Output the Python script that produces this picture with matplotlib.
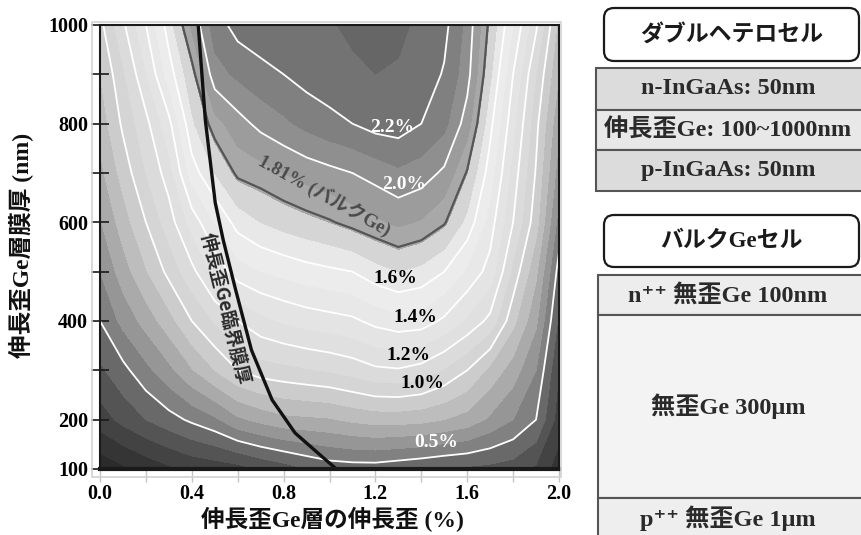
import numpy as np
import matplotlib
matplotlib.use("Agg")
import matplotlib.pyplot as plt
from matplotlib.patches import Rectangle, FancyBboxPatch

# ---- data -------------------------------------------------------------
# tensile strain of the Ge layer (%)
strain = [0.0, 0.1, 0.2, 0.3, 0.4, 0.5, 0.6, 0.7, 0.8, 0.9, 1.0,
          1.1, 1.2, 1.3, 1.4, 1.5, 1.6, 1.7, 1.8, 1.9, 2.0]
# strained Ge layer thickness (nm)
thickness = [100, 200, 300, 400, 500, 600, 700, 800, 900, 1000]

# efficiency gain (%) per thickness row, one value per strain column
gain_100 = [0.03, 0.08, 0.13, 0.18, 0.22, 0.24, 0.26, 0.31, 0.35, 0.40, 0.44,
            0.45, 0.45, 0.43, 0.41, 0.39, 0.38, 0.37, 0.35, 0.28, 0.15]
gain_200 = [0.25, 0.33, 0.40, 0.46, 0.52, 0.58, 0.68, 0.73, 0.77, 0.78, 0.79,
            0.82, 0.84, 0.84, 0.83, 0.80, 0.76, 0.68, 0.60, 0.50, 0.25]
gain_300 = [0.38, 0.47, 0.57, 0.67, 0.79, 0.90, 1.00, 1.05, 1.07, 1.09, 1.11,
            1.14, 1.18, 1.19, 1.16, 1.09, 1.00, 0.87, 0.75, 0.60, 0.30]
gain_400 = [0.50, 0.63, 0.74, 0.86, 1.00, 1.11, 1.20, 1.27, 1.31, 1.34, 1.36,
            1.38, 1.43, 1.46, 1.45, 1.38, 1.28, 1.17, 0.93, 0.72, 0.38]
gain_500 = [0.60, 0.75, 0.89, 1.03, 1.17, 1.33, 1.45, 1.50, 1.53, 1.56, 1.58,
            1.60, 1.66, 1.70, 1.67, 1.60, 1.48, 1.36, 1.07, 0.82, 0.46]
gain_600 = [0.69, 0.85, 1.00, 1.15, 1.34, 1.50, 1.64, 1.70, 1.74, 1.77, 1.80,
            1.84, 1.88, 1.92, 1.89, 1.82, 1.67, 1.45, 1.20, 0.94, 0.56]
gain_700 = [0.77, 0.94, 1.10, 1.25, 1.55, 1.70, 1.83, 1.86, 1.90, 1.94, 1.97,
            2.00, 2.04, 2.08, 2.05, 1.98, 1.80, 1.55, 1.26, 0.99, 0.65]
gain_800 = [0.84, 1.02, 1.17, 1.37, 1.68, 1.86, 1.96, 2.03, 2.08, 2.13, 2.17,
            2.20, 2.24, 2.25, 2.20, 2.13, 1.95, 1.63, 1.33, 1.03, 0.72]
gain_900 = [0.90, 1.08, 1.29, 1.55, 1.77, 2.06, 2.12, 2.17, 2.20, 2.24, 2.26,
            2.28, 2.30, 2.29, 2.26, 2.19, 2.04, 1.72, 1.40, 1.10, 0.80]
gain_1000 = [0.97, 1.18, 1.40, 1.65, 1.92, 2.15, 2.24, 2.26, 2.28, 2.29, 2.29,
             2.32, 2.35, 2.32, 2.28, 2.23, 2.07, 1.78, 1.50, 1.22, 0.87]

# bulk Ge reference level and labelled contour levels (%)
bulk_level = 1.81
white_levels = [0.5, 1.0, 1.2, 1.4, 1.6, 2.0, 2.2]

# critical thickness of the tensile-strained Ge layer
crit_strain = [0.428, 0.459, 0.502, 0.537, 0.59, 0.66, 0.75, 0.85, 0.97, 1.03]
crit_thick = [1000, 807, 640, 564, 465, 341, 240, 173, 124, 100]

x_ticks = [0.0, 0.4, 0.8, 1.2, 1.6, 2.0]
y_ticks = [100, 200, 400, 600, 800, 1000]

# ---- fonts ------------------------------------------------------------
SERIF_JP = ["Liberation Serif", "Noto Sans CJK JP", "DejaVu Sans"]
GOTHIC_JP = ["Noto Sans CJK JP", "DejaVu Sans"]
plt.rcParams["font.family"] = SERIF_JP

W, H = 861, 535
fig = plt.figure(figsize=(W / 100, H / 100), dpi=100)
fig.patch.set_facecolor("white")

# main axes: x 100..559 px, y 25..469 px
ax = fig.add_axes([100 / W, (H - 469) / H, 459 / W, 444 / H])

gain = np.array([gain_100, gain_200, gain_300, gain_400, gain_500,
                 gain_600, gain_700, gain_800, gain_900, gain_1000])
X, Y = np.meshgrid(strain, thickness)

# grey shading: dark at low gain, lightest near 1.6 %, darker again above
levels = np.round(np.arange(0.0, 2.45, 0.1), 2)
shade_v = [0.0, 0.2, 0.4, 0.5, 0.7, 0.9, 1.0, 1.2, 1.4, 1.6, 1.7, 1.8, 1.85, 2.0, 2.1, 2.2, 2.3, 2.4]
shade_g = [38, 58, 92, 118, 160, 198, 210, 222, 230, 238, 226, 200, 168, 150, 135, 122, 108, 95]
mids = (levels[:-1] + levels[1:]) / 2
band_colors = [str(np.interp(m, shade_v, shade_g) / 255.0) for m in mids]
ax.contourf(X, Y, gain, levels=levels, colors=band_colors, extend="both")

ax.contour(X, Y, gain, levels=white_levels, colors="white", linewidths=1.3)
ax.contour(X, Y, gain, levels=[bulk_level], colors="#555555", linewidths=1.6)

ax.plot(crit_strain, crit_thick, color="#111111", lw=2.4, solid_capstyle="butt")

# contour annotations
lab = dict(fontsize=14, fontweight="bold", ha="center", va="center", family=SERIF_JP)
ax.text(1.275, 793, "2.2%", color="white", **lab)
ax.text(1.323, 676, "2.0%", color="white", **lab)
ax.text(1.288, 487, "1.6%", color="black", **lab)
ax.text(1.376, 408, "1.4%", color="black", **lab)
ax.text(1.345, 331, "1.2%", color="black", **lab)
ax.text(1.406, 274, "1.0%", color="black", **lab)
ax.text(1.463, 153, "0.5%", color="white", **lab)
ax.text(0.98, 655, "1.81% (バルクGe)", color="#4a4a4a", rotation=-29,
        rotation_mode="anchor", fontsize=13.5, fontweight="bold",
        ha="center", va="center", family=SERIF_JP)
ax.text(0.545, 425, "伸長歪Ge臨界膜厚", color="#2a2a2a", rotation=-76,
        rotation_mode="anchor", fontsize=13.5, fontweight="bold",
        ha="center", va="center", family=GOTHIC_JP)

ax.set_xlim(0, 2.0)
ax.set_ylim(100, 1000)

for side in ["left", "top", "right"]:
    ax.spines[side].set_color("#1a1a1a")
    ax.spines[side].set_linewidth(1.5)
ax.spines["bottom"].set_color("#1a1a1a")
ax.spines["bottom"].set_linewidth(3)

ax.set_xticks(x_ticks)
ax.set_xticks(np.arange(0, 2.01, 0.2), minor=True)
ax.set_xticklabels([f"{v:.1f}" for v in x_ticks])
ax.set_yticks(y_ticks)
ax.set_yticks([300, 500, 700, 900], minor=True)
ax.set_yticklabels([str(v) for v in y_ticks])
ax.tick_params(axis="x", which="both", direction="out", length=9, width=1,
               color="#c4c4c4", pad=2, labelsize=14.5)
ax.tick_params(axis="y", which="both", direction="inout", length=13, width=1.2,
               color="#1a1a1a", pad=2, labelsize=14.5)
for t in ax.get_xticklabels() + ax.get_yticklabels():
    t.set_fontweight("bold")

top = ax.secondary_xaxis("top")
top.set_xticks([0.5, 1.0, 1.5])
top.tick_params(direction="in", length=6, width=1.2, color="#1a1a1a", labeltop=False)
top.spines["top"].set_visible(False)
bot = ax.secondary_xaxis("bottom")
bot.set_xticks([0.5, 1.0, 1.5])
bot.tick_params(direction="in", length=6, width=1.2, color="#1a1a1a", labelbottom=False)
bot.spines["bottom"].set_visible(False)
rgt = ax.secondary_yaxis("right")
rgt.set_yticks(np.arange(100, 1001, 100))
rgt.tick_params(direction="in", length=6, width=1.2, color="#1a1a1a", labelright=False)
rgt.spines["right"].set_visible(False)

# ---- overlay in pixel coordinates --------------------------------------
ov = fig.add_axes([0, 0, 1, 1])
ov.set_xlim(0, W)
ov.set_ylim(H, 0)
ov.axis("off")

# faint outer frame around the plot
ov.add_patch(Rectangle((92, 22), 469, 455, fill=False, ec="#d2d2d2", lw=1.2))

ov.text(332, 520, "伸長歪Ge層の伸長歪 (%)", fontsize=17, fontweight="bold",
        ha="center", va="center", family=SERIF_JP, color="#111111")
ov.text(22, 245, "伸長歪Ge層膜厚 (nm)", fontsize=17, fontweight="bold",
        ha="center", va="center", rotation=90, family=SERIF_JP, color="#111111")

# layer stacks
def rounded(x0, y0, x1, y1, text, family):
    ov.add_patch(FancyBboxPatch((x0, y0), x1 - x0, y1 - y0,
                                boxstyle="round,pad=0,rounding_size=10",
                                fc="white", ec="#1a1a1a", lw=1.6))
    ov.text((x0 + x1) / 2, (y0 + y1) / 2, text, fontsize=16.5, fontweight="bold",
            ha="center", va="center", family=family, color="#1a1a1a")

def layer(x0, y0, x1, y1, fc, text, ty=None):
    ov.add_patch(Rectangle((x0, y0), x1 - x0, y1 - y0, fc=fc, ec="#555555", lw=1.5))
    if text:
        ov.text(728, (y0 + y1) / 2 if ty is None else ty, text, fontsize=17.5,
                fontweight="bold", ha="center", va="center", family=SERIF_JP,
                color="#2a2a2a")

rounded(604, 8, 859, 61, "ダブルヘテロセル", GOTHIC_JP)
layer(596, 68, 866, 110, "#dcdcdc", "n-InGaAs: 50nm")
layer(596, 110, 866, 150, "#e8e8e8", "伸長歪Ge: 100~1000nm")
layer(596, 150, 866, 191, "#dcdcdc", "p-InGaAs: 50nm")

rounded(604, 215, 859, 267, "バルクGeセル", SERIF_JP)
layer(598, 275, 866, 315, "#ededed", "n⁺⁺ 無歪Ge 100nm")
layer(598, 315, 866, 498, "#f3f3f3", "無歪Ge 300μm")
layer(598, 498, 866, 545, "#eeeeee", "p⁺⁺ 無歪Ge 1μm", ty=518)

fig.savefig("out.png", dpi=100, facecolor="white")
